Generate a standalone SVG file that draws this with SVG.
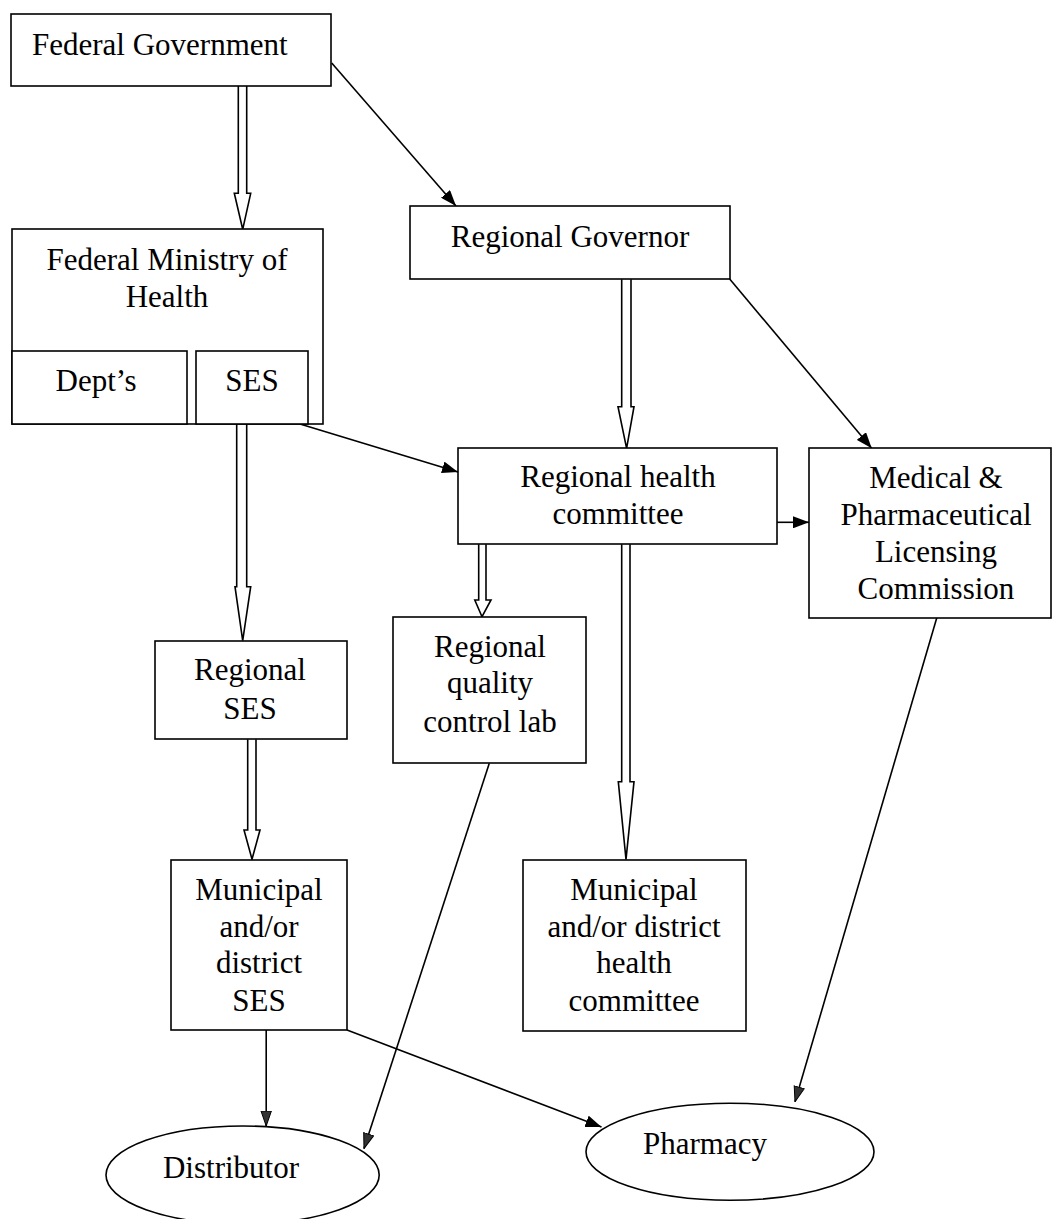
<svg xmlns="http://www.w3.org/2000/svg" width="1053" height="1219" viewBox="0 0 1053 1219">
<defs>
<style>
.box{fill:#fff;stroke:#000;stroke-width:1.6}
.t{font-family:"Liberation Serif","Times New Roman",serif;font-size:31px;fill:#000;text-anchor:middle}
.blk{fill:#fff;stroke:#000;stroke-width:1.6;stroke-linejoin:miter}
.ln{fill:none;stroke:#000;stroke-width:1.6}
</style>
<marker id="ah" viewBox="0 0 16 12" refX="16" refY="6" markerWidth="16" markerHeight="12" markerUnits="userSpaceOnUse" orient="auto">
<path d="M0,0 L16,6 L0,12 Z" fill="#000"/>
</marker>
<marker id="ahg" viewBox="0 0 16 12" refX="15.5" refY="6" markerWidth="16" markerHeight="12" markerUnits="userSpaceOnUse" orient="auto">
<path d="M0.5,0.8 L15.5,6 L0.5,11.2 Z" fill="#333" stroke="#000" stroke-width="1"/>
</marker>
</defs>
<rect width="1053" height="1219" fill="#fff"/>

<g id="connectors">
<!-- hollow block arrows -->
<path class="blk" d="M238.3,86 L238.3,193.3 L234.3,193.3 L242.7,229.3 L250.7,193.3 L246.7,193.3 L246.7,86"/>
<path class="blk" d="M621.7,279.3 L621.7,406.7 L618,406.7 L626.6,448.3 L634,406.7 L631,406.7 L631,279.3"/>
<path class="blk" d="M236.7,424 L236.7,586.7 L235,586.7 L242.7,640.7 L250.7,586.7 L246.7,586.7 L246.7,424"/>
<path class="blk" d="M247.7,739.3 L247.7,830 L244,830 L252,859.3 L260,830 L256,830 L256,739.3"/>
<path class="blk" d="M478.7,544.3 L478.7,600 L474.8,600 L482,616.7 L491,600 L486,600 L486,544.3"/>
<path class="blk" d="M621.7,544.3 L621.7,781.7 L618.3,781.7 L626,859.3 L634,781.7 L630,781.7 L630,544.3"/>
<!-- line arrows -->
<line class="ln" x1="331.7" y1="63" x2="456" y2="206" marker-end="url(#ah)"/>
<line class="ln" x1="300" y1="424" x2="458" y2="472" marker-end="url(#ah)"/>
<line class="ln" x1="729.7" y1="279" x2="871.7" y2="448.3" marker-end="url(#ah)"/>
<line class="ln" x1="777" y1="522.3" x2="809" y2="522.3" marker-end="url(#ah)"/>
<line class="ln" x1="266.2" y1="1030" x2="266.2" y2="1126" marker-end="url(#ahg)"/>
<line class="ln" x1="489.3" y1="763.3" x2="364" y2="1148.5" marker-end="url(#ahg)"/>
<line class="ln" x1="347" y1="1030" x2="601.5" y2="1127" marker-end="url(#ah)"/>
<line class="ln" x1="936.8" y1="617.7" x2="795" y2="1101.7" marker-end="url(#ahg)"/>
</g>

<g id="federal-government">
<rect class="box" x="11" y="14" width="320" height="72"/>
<text class="t" x="32" y="55" style="text-anchor:start">Federal Government</text>
</g>

<g id="federal-ministry">
<rect class="box" x="12" y="229" width="311" height="195"/>
<text class="t" x="167" y="270">Federal Ministry of</text>
<text class="t" x="167" y="307">Health</text>
</g>

<g id="depts">
<rect class="box" x="12" y="351" width="175" height="73"/>
<text class="t" x="96" y="391">Dept’s</text>
</g>

<g id="ses">
<rect class="box" x="196" y="351" width="112" height="73"/>
<text class="t" x="252" y="391">SES</text>
</g>

<g id="regional-governor">
<rect class="box" x="410" y="206" width="320" height="73"/>
<text class="t" x="570" y="247">Regional Governor</text>
</g>

<g id="regional-health-committee">
<rect class="box" x="458" y="448" width="319" height="96"/>
<text class="t" x="618" y="487">Regional health</text>
<text class="t" x="618" y="524">committee</text>
</g>

<g id="licensing-commission">
<rect class="box" x="809" y="448" width="242" height="170"/>
<text class="t" x="936" y="488">Medical &amp;</text>
<text class="t" x="936" y="525">Pharmaceutical</text>
<text class="t" x="936" y="562">Licensing</text>
<text class="t" x="936" y="599">Commission</text>
</g>

<g id="regional-ses">
<rect class="box" x="155" y="641" width="192" height="98"/>
<text class="t" x="250" y="680">Regional</text>
<text class="t" x="250" y="719">SES</text>
</g>

<g id="quality-control-lab">
<rect class="box" x="393" y="617" width="193" height="146"/>
<text class="t" x="490" y="657">Regional</text>
<text class="t" x="490" y="693">quality</text>
<text class="t" x="490" y="732">control lab</text>
</g>

<g id="municipal-ses">
<rect class="box" x="171" y="860" width="176" height="170"/>
<text class="t" x="259" y="900">Municipal</text>
<text class="t" x="259" y="937">and/or</text>
<text class="t" x="259" y="973">district</text>
<text class="t" x="259" y="1011">SES</text>
</g>

<g id="municipal-health-committee">
<rect class="box" x="523" y="860" width="223" height="171"/>
<text class="t" x="634" y="900">Municipal</text>
<text class="t" x="634" y="937">and/or district</text>
<text class="t" x="634" y="973">health</text>
<text class="t" x="634" y="1011">committee</text>
</g>

<g id="distributor">
<ellipse class="box" cx="242.6" cy="1175" rx="136.6" ry="49"/>
<text class="t" x="231" y="1178">Distributor</text>
</g>

<g id="pharmacy">
<ellipse class="box" cx="730" cy="1151.7" rx="144" ry="48.5"/>
<text class="t" x="705" y="1154">Pharmacy</text>
</g>
</svg>
